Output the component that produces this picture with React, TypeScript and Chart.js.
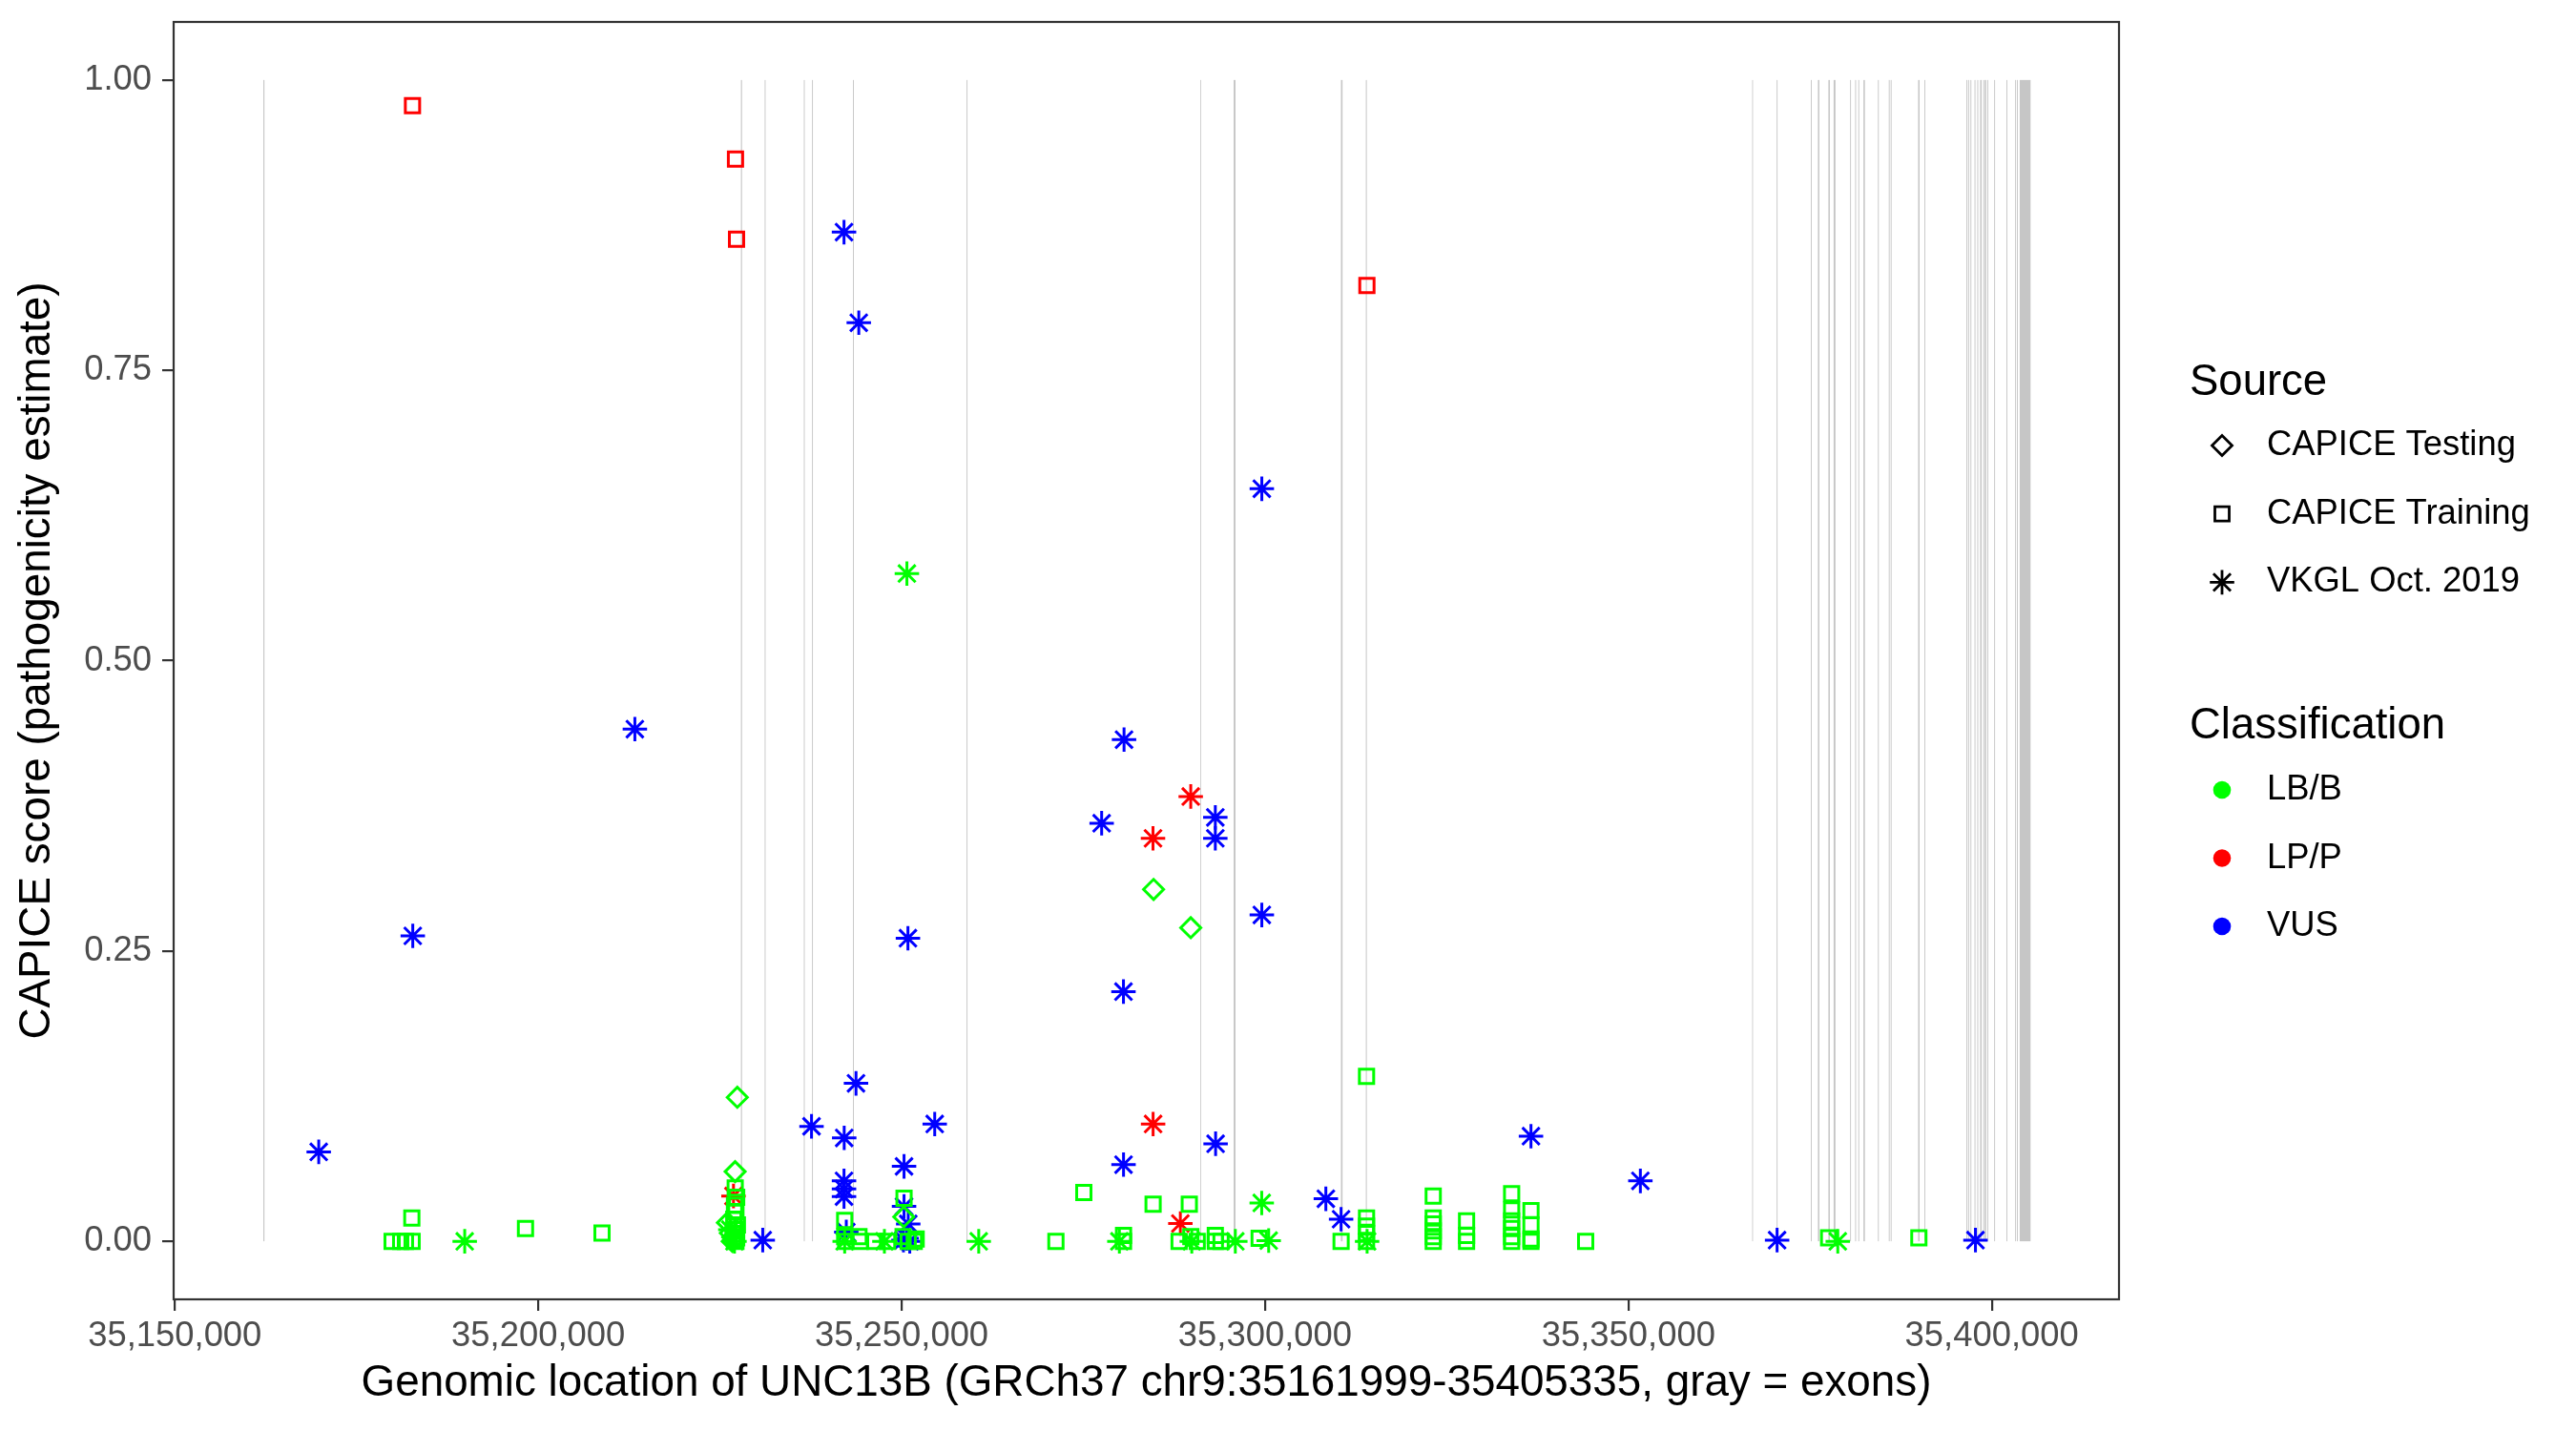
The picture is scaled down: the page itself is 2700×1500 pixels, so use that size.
import React, { useEffect, useRef } from "react";
import { Chart, registerables } from "chart.js";

Chart.register(...registerables);

const FONT = '"Liberation Sans", Arial, Helvetica, sans-serif';

// ---- axis / labels ----
const xTitle = "Genomic location of UNC13B (GRCh37 chr9:35161999-35405335, gray = exons)";
const yTitle = "CAPICE score (pathogenicity estimate)";
const xTickValues = [35150000, 35200000, 35250000, 35300000, 35350000, 35400000];
const yTickValues = [0, 0.25, 0.5, 0.75, 1];
const geneStart = 35161999;
const geneEnd = 35405335;

// ---- legend ----
const sourceTitle = "Source";
const sourceLabels = ["CAPICE Testing", "CAPICE Training", "VKGL Oct. 2019"];
const classTitle = "Classification";
const classLabels = ["LB/B", "LP/P", "VUS"];
const classColors = ["#00ff00", "#ff0000", "#0000ff"];

// ---- exons (gray) ----
const exonStarts = [
  35162175, 35227890, 35231156, 35236545, 35237672, 35243309, 35258937, 35291102,
  35295684, 35310448, 35313876, 35367035, 35370398, 35375104, 35376074, 35377516,
  35378238, 35380506, 35381200, 35381633, 35382340, 35384334, 35385828, 35386090,
  35389865, 35390731, 35396500, 35396749, 35397064, 35397627, 35398007, 35398400,
  35398820, 35399029, 35399384, 35400328, 35402019, 35403212, 35403461, 35403836,
];
const exonEnds = [
  35162325, 35228040, 35231276, 35236665, 35237792, 35243429, 35259057, 35291182,
  35295934, 35310668, 35314006, 35367115, 35370518, 35375224, 35376274, 35377716,
  35378488, 35380626, 35381320, 35381753, 35382540, 35384454, 35385948, 35386210,
  35390065, 35390851, 35396620, 35396869, 35397184, 35397747, 35398127, 35398600,
  35398940, 35399229, 35399504, 35400448, 35402139, 35403332, 35403581, 35405335,
];

// ---- points: [genomic position, CAPICE score] ----
const trainingBenign: [number, number][] = [
  [35182605, 0.02], [35179891, 0], [35181071, 0], [35181726, 0], [35182644, 0],
  [35198245, 0.011], [35208772, 0.007],
  [35227100, 0.046], [35227300, 0.038], [35227000, 0.031], [35227200, 0.025],
  [35226900, 0.019], [35227400, 0.014], [35227100, 0.01], [35226800, 0.006],
  [35227300, 0.003], [35227000, 0.001], [35227200, 0],
  [35242163, 0.018], [35242163, 0.004], [35242300, 0], [35244130, 0.004], [35244300, 0],
  [35246319, 0], [35248063, 0], [35250331, 0.037], [35250200, 0.004], [35250900, 0],
  [35251734, 0], [35252000, 0.002],
  [35271228, 0], [35275069, 0.042], [35284600, 0.032], [35289582, 0.032],
  [35280533, 0.005], [35280533, 0], [35288179, 0], [35289792, 0.004], [35290670, 0],
  [35293161, 0.005], [35293161, 0], [35293948, 0], [35299192, 0.0025], [35310466, 0],
  [35313967, 0.142], [35313967, 0.02], [35313967, 0.013], [35313967, 0.0066], [35313967, 0],
  [35323144, 0.039], [35323144, 0.02], [35323144, 0.015], [35323144, 0.009],
  [35323144, 0.004], [35323144, 0],
  [35327732, 0.0175], [35327732, 0.005], [35327732, 0],
  [35333933, 0.041], [35333933, 0.027], [35333933, 0.0175], [35333933, 0.011],
  [35333933, 0.004], [35333933, 0],
  [35336594, 0.0265], [35336594, 0.014], [35336594, 0.002], [35336594, 0],
  [35344120, 0], [35377550, 0.003], [35389965, 0.003],
];
const testingBenign: [number, number][] = [
  [35284666, 0.303], [35289779, 0.27], [35227388, 0.124], [35227087, 0.06],
  [35250290, 0.021], [35226038, 0.016], [35226431, 0.007], [35226700, 0],
];
const vkglBenign: [number, number][] = [
  [35250724, 0.575], [35189881, 0], [35260609, 0], [35299546, 0.033], [35300503, 0.0006],
  [35295914, 0], [35279959, 0], [35289923, 0], [35314046, 0], [35378809, 0],
  [35242163, 0], [35247630, 0], [35226431, 0.01], [35227000, 0],
];
const vkglVus: [number, number][] = [
  [35242072, 0.869], [35244104, 0.791], [35299559, 0.648], [35280602, 0.432],
  [35277521, 0.36], [35293161, 0.365], [35293161, 0.347], [35299559, 0.281],
  [35250868, 0.261], [35280523, 0.215], [35213295, 0.441], [35182736, 0.263],
  [35169796, 0.077], [35243723, 0.136], [35237601, 0.099], [35254552, 0.101],
  [35242098, 0.089], [35293200, 0.084], [35250331, 0.0645], [35280533, 0.066],
  [35242072, 0.052], [35242072, 0.045], [35242072, 0.0385], [35250331, 0.03],
  [35250908, 0.015], [35242386, 0.008], [35250252, 0.001], [35251117, 0],
  [35250685, 0.0025], [35230889, 0.001], [35308369, 0.0366], [35310466, 0.019],
  [35336594, 0.0905], [35351645, 0.052], [35370458, 0.001], [35397753, 0.001],
];
const trainingPathogenic: [number, number][] = [
  [35182696, 0.978], [35227139, 0.932], [35227283, 0.863], [35314019, 0.823],
];
const vkglPathogenic: [number, number][] = [
  [35289779, 0.383], [35284587, 0.347], [35284600, 0.101], [35288350, 0.0153],
  [35226864, 0.039],
];

const toXY = (arr: [number, number][]) => arr.map(([x, y]) => ({ x, y }));

const exonPlugin = {
  id: "exons",
  beforeDatasetsDraw(chart: any) {
    const { ctx, scales } = chart;
    const xs = scales.x;
    const ys = scales.y;
    const top = ys.getPixelForValue(1);
    const bottom = ys.getPixelForValue(0);
    ctx.save();
    ctx.fillStyle = "#c6c6c6";
    exonStarts.forEach((s, i) => {
      const x1 = xs.getPixelForValue(s);
      const x2 = xs.getPixelForValue(exonEnds[i]);
      ctx.fillRect(x1, top, Math.max(x2 - x1, 0.8), bottom - top);
    });
    ctx.restore();
  },
};

function drawShape(ctx: CanvasRenderingContext2D, kind: string, x: number, y: number) {
  ctx.beginPath();
  if (kind === "diamond") {
    const r = 10.5;
    ctx.moveTo(x - r, y);
    ctx.lineTo(x, y - r);
    ctx.lineTo(x + r, y);
    ctx.lineTo(x, y + r);
    ctx.closePath();
  } else if (kind === "square") {
    const h = 7.5;
    ctx.rect(x - h, y - h, 2 * h, 2 * h);
  } else {
    const r = 12.8;
    for (let k = 0; k < 4; k++) {
      const a = (k * Math.PI) / 4;
      ctx.moveTo(x - Math.cos(a) * r, y - Math.sin(a) * r);
      ctx.lineTo(x + Math.cos(a) * r, y + Math.sin(a) * r);
    }
  }
  ctx.stroke();
}

const panelAndLegendPlugin = {
  id: "panelLegend",
  afterDatasetsDraw(chart: any) {
    const { ctx, chartArea } = chart;
    ctx.save();
    ctx.strokeStyle = "#333333";
    ctx.lineWidth = 2.2;
    ctx.strokeRect(chartArea.left, chartArea.top, chartArea.right - chartArea.left, chartArea.bottom - chartArea.top);
    ctx.restore();
  },
  afterDraw(chart: any) {
    const ctx: CanvasRenderingContext2D = chart.ctx;
    ctx.save();
    const lx = 2295;
    const markX = 2329;
    const textX = 2376;
    ctx.fillStyle = "#000000";
    ctx.textAlign = "left";
    ctx.textBaseline = "alphabetic";
    ctx.font = `45.5px ${FONT}`;
    ctx.fillText(sourceTitle, lx, 414);
    ctx.fillText(classTitle, lx, 774);
    ctx.font = `36.4px ${FONT}`;
    ctx.textBaseline = "middle";
    const kinds = ["diamond", "square", "star"];
    ctx.strokeStyle = "#000000";
    ctx.lineWidth = 2.8;
    sourceLabels.forEach((label, i) => {
      const yy = 467 + i * 71.7;
      drawShape(ctx, kinds[i], markX, yy);
      ctx.fillText(label, textX, yy);
    });
    classLabels.forEach((label, i) => {
      const yy = 828 + i * 71.5;
      ctx.beginPath();
      ctx.fillStyle = classColors[i];
      ctx.arc(markX, yy, 9.3, 0, Math.PI * 2);
      ctx.fill();
      ctx.fillStyle = "#000000";
      ctx.fillText(label, textX, yy);
    });
    ctx.restore();
  },
};

function series(label: string, data: [number, number][], color: string, style: string, radius: number) {
  return {
    label,
    data: toXY(data),
    pointStyle: style,
    pointRadius: radius,
    pointHoverRadius: radius,
    borderColor: color,
    backgroundColor: "rgba(0,0,0,0)",
    pointBorderWidth: 3,
    borderWidth: 3,
    showLine: false,
  };
}

export default function App() {
  const ref = useRef<HTMLCanvasElement | null>(null);
  useEffect(() => {
    document.body.style.margin = "0";
    const canvas = ref.current;
    if (!canvas) return;
    const chart = new Chart(canvas, {
      type: "scatter",
      data: {
        datasets: [
          series("CAPICE Training LB/B", trainingBenign, "#00ff00", "rect", 10.6),
          series("CAPICE Testing LB/B", testingBenign, "#00ff00", "rectRot", 10.5),
          series("VKGL LB/B", vkglBenign, "#00ff00", "star", 12.8),
          series("VKGL VUS", vkglVus, "#0000ff", "star", 12.8),
          series("CAPICE Training LP/P", trainingPathogenic, "#ff0000", "rect", 10.6),
          series("VKGL LP/P", vkglPathogenic, "#ff0000", "star", 12.8),
        ] as any,
      },
      options: {
        animation: false,
        responsive: false,
        events: [],
        layout: { padding: { top: 23, right: 479, bottom: 0, left: 0 } },
        plugins: { legend: { display: false }, tooltip: { enabled: false } },
        scales: {
          x: {
            type: "linear",
            min: geneStart - (geneEnd - geneStart) * 0.05,
            max: geneEnd + (geneEnd - geneStart) * 0.05,
            afterBuildTicks: (s: any) => {
              s.ticks = xTickValues.map((v) => ({ value: v }));
            },
            afterFit: (s: any) => {
              s.height = 138;
              s.paddingLeft = 0;
              s.paddingRight = 0;
            },
            ticks: {
              autoSkip: false,
              maxRotation: 0,
              padding: 5,
              color: "#4d4d4d",
              font: { family: FONT, size: 36.4 },
              callback: (v: any) => Number(v).toLocaleString("en-US"),
            },
            grid: { drawOnChartArea: false, drawTicks: true, tickLength: 12, color: "#333333", lineWidth: 2.2 },
            border: { display: false },
            title: {
              display: true,
              text: xTitle,
              color: "#000000",
              font: { family: FONT, size: 45.8, lineHeight: 1.2 },
              padding: { top: 0, bottom: 22 },
            },
          },
          y: {
            type: "linear",
            min: -0.05,
            max: 1.05,
            afterBuildTicks: (s: any) => {
              s.ticks = yTickValues.map((v) => ({ value: v }));
            },
            afterFit: (s: any) => {
              s.width = 182;
              s.paddingTop = 0;
              s.paddingBottom = 0;
            },
            ticks: {
              padding: 11,
              color: "#4d4d4d",
              font: { family: FONT, size: 36.4 },
              callback: (v: any) => Number(v).toFixed(2),
            },
            grid: { drawOnChartArea: false, drawTicks: true, tickLength: 12, color: "#333333", lineWidth: 2.2 },
            border: { display: false },
            title: {
              display: true,
              text: yTitle,
              color: "#000000",
              font: { family: FONT, size: 45.8, lineHeight: 1.2 },
              padding: { top: 11.4, bottom: 0 },
            },
          },
        },
      } as any,
      plugins: [exonPlugin, panelAndLegendPlugin],
    });
    return () => chart.destroy();
  }, []);
  return (
    <div style={{ width: 2700, height: 1500, background: "#ffffff" }}>
      <canvas ref={ref} width={2700} height={1500} style={{ display: "block", width: 2700, height: 1500 }} />
    </div>
  );
}
